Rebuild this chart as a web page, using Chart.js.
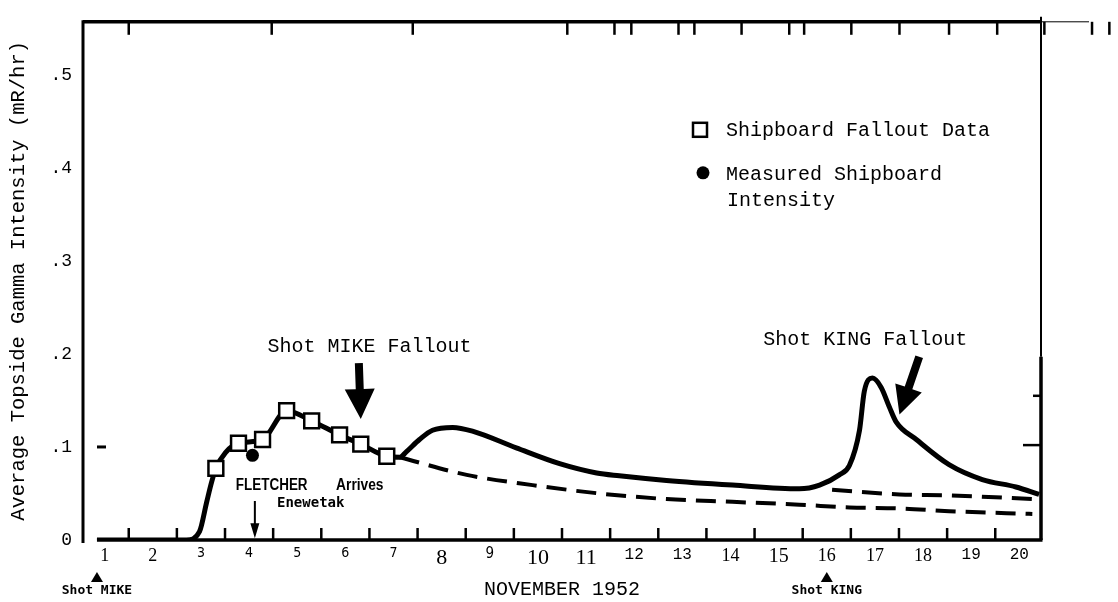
<!DOCTYPE html>
<html>
<head>
<meta charset="utf-8">
<script src="https://cdn.jsdelivr.net/npm/chart.js@4.4.0/dist/chart.umd.min.js"></script>
<style>
  html, body { margin: 0; padding: 0; background: #fff; }
</style>
</head>
<body>
<canvas id="chart" width="1118" height="602"></canvas>
<script>
// days of November 1952 on the x axis
const dayValues = [1, 2, 3, 4, 5, 6, 7, 8, 9, 10, 11, 12, 13, 14, 15, 16, 17, 18, 19, 20];
const dayLabels = ['1', '2', '3', '4', '5', '6', '7', '8', '9', '10', '11', '12', '13', '14', '15', '16', '17', '18', '19', '20'];
const yTickValues = [0, 0.1, 0.2, 0.3, 0.4, 0.5];
const yTickLabels = ['0', '.1', '.2', '.3', '.4', '.5'];

// shipboard fallout data (open squares)
const fallX = [3.31, 3.78, 4.28, 4.78, 5.30, 5.88, 6.32, 6.86];
const fallY = [0.077, 0.104, 0.108, 0.139, 0.128, 0.113, 0.103, 0.090];

// measured shipboard intensity (dot)
const measuredX = [4.07];
const measuredY = [0.091];

// solid intensity curve
const curveX = [0.84, 2.70, 2.97, 3.12, 3.22, 3.31, 3.51, 3.78, 4.28, 4.78, 5.30, 5.88, 6.32, 6.86, 7.13, 7.27, 7.54, 7.81, 8.23, 8.64, 9.55, 10.45, 11.22, 11.69, 12.67, 14.04, 15.43, 15.85, 16.26, 16.47, 16.68, 16.78, 16.95, 17.13, 17.30, 17.44, 17.86, 18.54, 19.23, 19.93, 20.41];
const curveY = [0, 0, 0.009, 0.041, 0.062, 0.077, 0.094, 0.104, 0.108, 0.139, 0.128, 0.113, 0.103, 0.090, 0.089, 0.095, 0.108, 0.118, 0.121, 0.117, 0.099, 0.082, 0.072, 0.069, 0.064, 0.059, 0.055, 0.059, 0.070, 0.080, 0.118, 0.160, 0.174, 0.164, 0.143, 0.127, 0.108, 0.081, 0.065, 0.057, 0.049];

// dashed decay curves
const mikeDecayX = [7.13, 8.52, 9.89, 11.28, 12.67, 14.04, 15.43, 16.47, 17.51, 18.54, 20.27];
const mikeDecayY = [0.089, 0.070, 0.059, 0.050, 0.044, 0.041, 0.038, 0.035, 0.034, 0.031, 0.028];
const kingDecayX = [16.11, 17.51, 18.54, 20.27];
const kingDecayY = [0.054, 0.049, 0.048, 0.044];

// tick marks along the frame
const bottomTickDays = [1.5, 2.5, 3.5, 4.5, 5.5, 6.5, 7.5, 8.5, 9.5, 10.5, 11.5, 12.5, 13.5, 14.5, 15.5, 16.5, 17.5, 18.5, 19.5];
const topTickDays = [1.5, 4.47, 7.4, 10.61, 11.59, 11.94, 12.92, 13.25, 14.23, 15.22, 15.53, 16.51, 17.51, 18.54, 19.54, 20.52, 21.51, 21.87];

const pts = (xs, ys) => xs.map((v, i) => ({ x: v, y: ys[i] }));

const MONO = '"Liberation Mono", "Courier New", monospace';
const tickFont = {
  serif: [1, 2, 8, 10, 11, 14, 15, 16, 17, 18],
  mono: [12, 13, 19, 20],
  size: { 1: 18, 2: 18, 3: 14, 4: 14, 5: 14, 6: 14, 7: 14, 8: 22, 9: 15, 10: 22, 11: 22, 12: 16, 13: 16, 14: 18, 15: 20, 16: 18, 17: 18, 18: 18, 19: 16, 20: 16 }
};

function seg(ctx, x0, y0, x1, y1, w) {
  ctx.lineWidth = w;
  ctx.beginPath();
  ctx.moveTo(x0, y0);
  ctx.lineTo(x1, y1);
  ctx.stroke();
}

function arrow(ctx, x0, y0, x1, y1, shaft, headW, headL) {
  const dx = x1 - x0, dy = y1 - y0;
  const len = Math.hypot(dx, dy);
  const ux = dx / len, uy = dy / len, nx = -uy, ny = ux;
  const bx = x1 - ux * headL, by = y1 - uy * headL;
  ctx.beginPath();
  ctx.moveTo(x0 + nx * shaft / 2, y0 + ny * shaft / 2);
  ctx.lineTo(bx + nx * shaft / 2, by + ny * shaft / 2);
  ctx.lineTo(bx + nx * headW / 2, by + ny * headW / 2);
  ctx.lineTo(x1, y1);
  ctx.lineTo(bx - nx * headW / 2, by - ny * headW / 2);
  ctx.lineTo(bx - nx * shaft / 2, by - ny * shaft / 2);
  ctx.lineTo(x0 - nx * shaft / 2, y0 - ny * shaft / 2);
  ctx.closePath();
  ctx.fill();
}

function squeezedText(ctx, text, x, y, font, sx) {
  ctx.save();
  ctx.font = font;
  ctx.translate(x, y);
  ctx.scale(sx, 1);
  ctx.fillText(text, 0, 0);
  ctx.restore();
}

const framePlugin = {
  id: 'frame',
  afterDraw(chart) {
    const { ctx, chartArea: a, scales: { x, y } } = chart;
    ctx.save();
    ctx.strokeStyle = '#000';
    ctx.fillStyle = '#000';

    // frame
    seg(ctx, a.left, a.top - 1.5, a.left, a.bottom + 3, 3);
    seg(ctx, a.left, a.top, a.right, a.top, 3.5);
    seg(ctx, a.right, a.top, a.right + 48, a.top, 1);
    seg(ctx, a.right, a.top - 5, a.right, y.getPixelForValue(0.197), 2);
    seg(ctx, a.right, y.getPixelForValue(0.197), a.right, a.bottom, 3.5);
    seg(ctx, x.getPixelForValue(0.84), a.bottom, a.right + 1.5, a.bottom, 3.5);

    // tick marks
    bottomTickDays.forEach(d => {
      const px = x.getPixelForValue(d);
      seg(ctx, px, a.bottom, px, a.bottom - 12, 2.5);
    });
    topTickDays.forEach(d => {
      const px = x.getPixelForValue(d);
      seg(ctx, px, a.top, px, a.top + 13, 2.5);
    });
    seg(ctx, a.left + 14, y.getPixelForValue(0.1), a.left + 23, y.getPixelForValue(0.1), 3);
    seg(ctx, a.right, y.getPixelForValue(0.155), a.right - 8, y.getPixelForValue(0.155), 2.5);
    seg(ctx, a.right, y.getPixelForValue(0.102), a.right - 18, y.getPixelForValue(0.102), 2.5);

    // big arrows
    arrow(ctx, x.getPixelForValue(6.28), y.getPixelForValue(0.190), x.getPixelForValue(6.32), y.getPixelForValue(0.130), 8, 30, 30);
    arrow(ctx, x.getPixelForValue(17.92), y.getPixelForValue(0.197), x.getPixelForValue(17.51), y.getPixelForValue(0.135), 8, 28, 28);
    // FLETCHER arrives arrow
    arrow(ctx, x.getPixelForValue(4.12), y.getPixelForValue(0.042), x.getPixelForValue(4.12), y.getPixelForValue(0.002), 2, 9, 15);

    // annotation text
    ctx.textBaseline = 'middle';
    ctx.textAlign = 'center';
    ctx.font = '20px ' + MONO;
    ctx.fillText('Shot MIKE Fallout', x.getPixelForValue(6.50), y.getPixelForValue(0.208));
    ctx.fillText('Shot KING Fallout', x.getPixelForValue(16.80), y.getPixelForValue(0.215));
    const sans = 'bold 16px "Liberation Sans", Arial, sans-serif';
    squeezedText(ctx, 'FLETCHER', x.getPixelForValue(4.47), y.getPixelForValue(0.059), sans, 0.84);
    squeezedText(ctx, 'Arrives', x.getPixelForValue(6.30), y.getPixelForValue(0.059), sans, 0.86);
    ctx.font = 'bold 14px "DejaVu Sans Mono", monospace';
    ctx.fillText('Enewetak', x.getPixelForValue(5.28), y.getPixelForValue(0.039));

    // shot markers under the axis
    ctx.font = 'bold 13px "DejaVu Sans Mono", monospace';
    [[0.84, 'Shot MIKE'], [16.0, 'Shot KING']].forEach(([d, label]) => {
      const px = x.getPixelForValue(d);
      ctx.beginPath();
      ctx.moveTo(px, a.bottom + 32);
      ctx.lineTo(px + 6, a.bottom + 42);
      ctx.lineTo(px - 6, a.bottom + 42);
      ctx.closePath();
      ctx.fill();
      ctx.fillText(label, px, a.bottom + 51);
    });

    // legend
    const lx = a.left + 617;
    ctx.lineWidth = 2.5;
    ctx.fillStyle = '#fff';
    ctx.fillRect(lx - 7, a.top + 101, 14, 14);
    ctx.strokeRect(lx - 7, a.top + 101, 14, 14);
    ctx.fillStyle = '#000';
    ctx.beginPath();
    ctx.arc(lx + 3, a.top + 151, 6.5, 0, Math.PI * 2);
    ctx.fill();
    ctx.textAlign = 'left';
    ctx.font = '20px ' + MONO;
    ctx.fillText('Shipboard Fallout Data', lx + 26, a.top + 109);
    ctx.fillText('Measured Shipboard', lx + 26, a.top + 153);
    ctx.fillText('Intensity', lx + 27, a.top + 179);
    ctx.restore();
  }
};

new Chart(document.getElementById('chart'), {
  type: 'line',
  data: {
    datasets: [
      {
        label: 'Shipboard Fallout Data',
        data: pts(fallX, fallY),
        showLine: false,
        pointStyle: 'rect',
        pointRadius: 10.5,
        pointBackgroundColor: '#fff',
        pointBorderColor: '#000',
        pointBorderWidth: 2.5
      },
      {
        label: 'Measured Shipboard Intensity',
        data: pts(measuredX, measuredY),
        showLine: false,
        pointStyle: 'circle',
        pointRadius: 6.5,
        pointBackgroundColor: '#000',
        pointBorderColor: '#000',
        pointBorderWidth: 0
      },
      {
        label: 'Average topside intensity',
        data: pts(curveX, curveY),
        borderColor: '#000',
        borderWidth: 5,
        pointRadius: 0,
        cubicInterpolationMode: 'monotone'
      },
      {
        label: 'MIKE decay',
        data: pts(mikeDecayX, mikeDecayY),
        borderColor: '#000',
        borderWidth: 4,
        borderDash: [20, 10],
        pointRadius: 0,
        cubicInterpolationMode: 'monotone'
      },
      {
        label: 'KING decay',
        data: pts(kingDecayX, kingDecayY),
        borderColor: '#000',
        borderWidth: 4,
        borderDash: [20, 10],
        pointRadius: 0,
        cubicInterpolationMode: 'monotone'
      }
    ]
  },
  options: {
    responsive: false,
    animation: false,
    events: [],
    layout: { padding: { top: 12, right: 77, bottom: 0, left: 0 } },
    plugins: {
      legend: { display: false },
      tooltip: { enabled: false }
    },
    scales: {
      x: {
        type: 'linear',
        min: 0.55,
        max: 20.45,
        afterFit: s => { s.height = 62; },
        afterBuildTicks: s => { s.ticks = dayValues.map(v => ({ value: v })); },
        grid: { display: false, drawTicks: false },
        border: { display: false },
        ticks: {
          padding: 5,
          color: '#000',
          autoSkip: false,
          maxRotation: 0,
          callback: (v, i) => dayLabels[i],
          font: c => {
            const d = dayValues[c.index];
            let family = '"DejaVu Sans Condensed", "DejaVu Sans", sans-serif';
            if (tickFont.serif.includes(d)) family = '"Liberation Serif", serif';
            if (tickFont.mono.includes(d)) family = MONO;
            return { family, size: tickFont.size[d] };
          }
        },
        title: {
          display: true,
          text: 'NOVEMBER 1952',
          color: '#000',
          font: { family: MONO, size: 20 },
          padding: 0
        }
      },
      y: {
        min: 0,
        max: 0.557,
        afterFit: s => { s.width = 83; },
        afterBuildTicks: s => { s.ticks = yTickValues.map(v => ({ value: v })); },
        grid: { display: false, drawTicks: false },
        border: { display: false },
        ticks: {
          padding: 11,
          color: '#000',
          callback: (v, i) => yTickLabels[i],
          font: { family: MONO, size: 18 }
        },
        title: {
          display: true,
          text: 'Average Topside Gamma Intensity (mR/hr)',
          color: '#000',
          font: { family: MONO, size: 20.5 },
          padding: { top: 6, bottom: 0 }
        }
      }
    }
  },
  plugins: [framePlugin]
});
</script>
</body>
</html>
